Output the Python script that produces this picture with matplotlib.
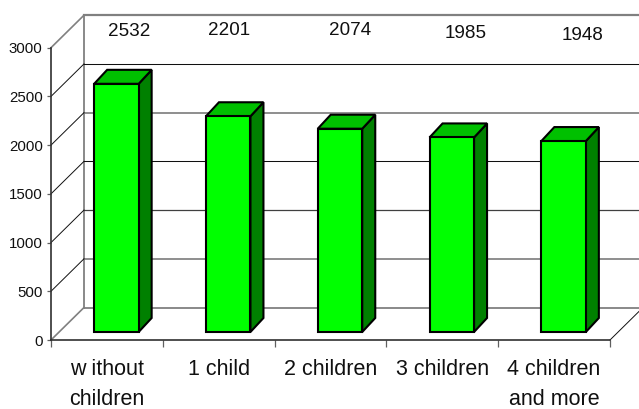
import matplotlib
matplotlib.use("Agg")
import matplotlib.pyplot as plt
from matplotlib.patches import Polygon

plt.rcParams['font.family'] = ['Liberation Sans', 'DejaVu Sans']

categories = ["w ithout\nchildren", "1 child", "2 children", "3 children", "4 children\nand more"]
values = [2532, 2201, 2074, 1985, 1948]
y_ticks = [0, 500, 1000, 1500, 2000, 2500, 3000]
# rendering colour / width of each back-wall gridline, by level
grid_styles = {500: ('#707070', 1.1), 1000: ('#404040', 0.9), 1500: ('#101010', 0.75),
               2000: ('#707070', 1.1), 2500: ('#101010', 0.75), 3000: ('#808080', 1.6)}

W, H = 639, 409
L, R, B, T = 51, 610, 340, 47.7
fig = plt.figure(figsize=(W / 100, H / 100), dpi=100, facecolor='white')
ax = fig.add_axes([L / W, 1 - B / H, (R - L) / W, (B - T) / H])
ax.set_xlim(0, 5)
ax.set_ylim(0, 3000)
ax.patch.set_visible(False)

px_x = 5 / (R - L)
px_y = 3000 / (B - T)
depth_x, depth_y = 33 * px_x, 32.5 * px_y

# back wall and floor
ax.plot([depth_x, depth_x], [depth_y, 3000 + depth_y], color='#808080', lw=1.3, clip_on=False, zorder=1)
ax.plot([depth_x, 5 + depth_x], [depth_y, depth_y], color='#808080', lw=1.3, clip_on=False, zorder=1)
ax.plot([0, depth_x], [0, depth_y], color='#808080', lw=1.2, clip_on=False, zorder=1)
ax.plot([5, 5 + depth_x], [0, depth_y], color='#101010', lw=0.7, clip_on=False, zorder=1)
for level, (c, lw) in grid_styles.items():
    ax.plot([depth_x, 5 + depth_x], [level + depth_y] * 2, color=c, lw=lw, clip_on=False, zorder=1)
    ax.plot([0, depth_x], [level, level + depth_y], color='#808080' if level == 3000 else '#101010',
            lw=1.2 if level == 3000 else 0.7, clip_on=False, zorder=1)

# 3D bars
bar_w = 44.5 * px_x
off_x, off_y = 9.5 * px_x, 8 * px_y
dx, dy = 13 * px_x, 14 * px_y
bar_scale = 1.006
edge = dict(edgecolor='black', linewidth=1.5, joinstyle='miter', clip_on=False, zorder=3)
for i, v in enumerate(values):
    x0 = i + 0.5 + off_x - bar_w / 2
    x1 = x0 + bar_w
    y0 = off_y
    y1 = off_y + v * bar_scale
    ax.add_patch(Polygon([(x1, y0), (x1 + dx, y0 + dy), (x1 + dx, y1 + dy), (x1, y1)], facecolor='#008000', **edge))
    ax.add_patch(Polygon([(x0, y1), (x1, y1), (x1 + dx, y1 + dy), (x0 + dx, y1 + dy)], facecolor='#00C000', **edge))
    ax.add_patch(Polygon([(x0, y0), (x1, y0), (x1, y1), (x0, y1)], facecolor='#00FF00', **edge))

# axes
for s in ('top', 'right'):
    ax.spines[s].set_visible(False)
for s in ('left', 'bottom'):
    ax.spines[s].set_color('#303030')
    ax.spines[s].set_linewidth(1.2)
ax.set_yticks(y_ticks)
ax.set_yticklabels([str(t) for t in y_ticks], fontsize=10.8, color='#101010')
ax.tick_params(axis='y', length=3, width=0.9, color='#606060', pad=3)
ax.set_xticks(range(6))
ax.set_xticklabels([''] * 6)
ax.tick_params(axis='x', which='major', length=5, width=0.9, color='#606060')
ax.set_xticks([i + 0.5 for i in range(5)], minor=True)
ax.set_xticklabels(categories, minor=True, fontsize=15.5, color='#101010', linespacing=1.6, va='top')
ax.tick_params(axis='x', which='minor', length=0, pad=13.5)

# data labels (free-floating in the original)
label_px = [(128.7, 32), (229, 30.5), (350.5, 30.5), (466, 33), (583, 35)]
for v, (px, py) in zip(values, label_px):
    fig.text(px / W, 1 - py / H, str(v), fontsize=13.6, color='#101010', ha='center', va='center')

fig.savefig('out.png', dpi=100, facecolor='white')
